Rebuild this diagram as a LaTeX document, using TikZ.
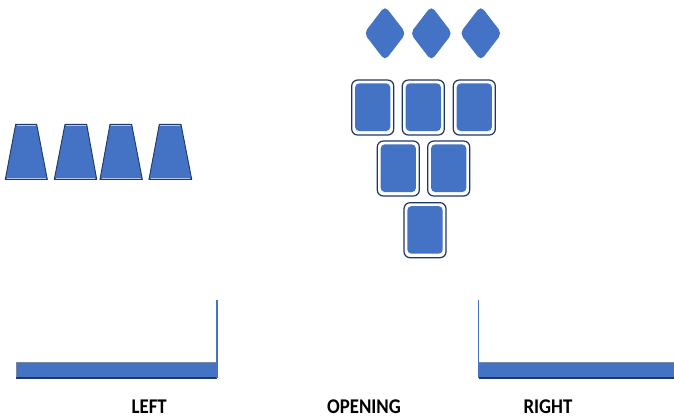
\documentclass[tikz,border=0pt]{standalone}
\usepackage{fontspec}
\newfontfamily\lblfont{Carlito}[FakeStretch=0.9]
\definecolor{fillblue}{HTML}{4472C4}
\definecolor{navy}{HTML}{1F3864}
\definecolor{edgelight}{HTML}{B4C7E7}
\begin{document}
\begin{tikzpicture}[x=1bp,y=-1bp]
\useasboundingbox (0,0) rectangle (674,418);
\tikzset{
 trap/.style={fill=fillblue, draw=navy, line width=0.9bp},
 trapin/.style={draw=edgelight, line width=0.6bp},
 gem/.style={fill=fillblue, rounded corners=5bp},
 cardout/.style={fill=white, draw=navy, line width=1.2bp, rounded corners=6bp},
 cardin/.style={fill=fillblue, rounded corners=4bp},
 barfill/.style={fill=fillblue, draw=navy!60, line width=0.6bp},
 barbase/.style={draw=navy, line width=1.6bp},
 post/.style={draw=fillblue, line width=1.6bp},
 lbl/.style={font=\lblfont\bfseries\fontsize{21}{24}\selectfont, anchor=base, inner sep=0pt}
}
% trapezoids
\foreach \bl/\br/\tl/\tr in {5.3/47.3/15.7/36.7, 54.3/96.7/65/86.7, 100/142.3/110/131.7, 149/191.7/159.3/181}{
  \draw[trap] (\bl,179.3) -- (\br,179.3) -- (\tr,124.3) -- (\tl,124.3) -- cycle;
  \draw[trapin] (\bl+1.6,178) -- (\br-1.6,178);
  \draw[trapin] (\tl+0.8,125.6) -- (\tr-0.8,125.6);
}
% diamonds
\foreach \cx in {385,431.3,480.8}{
  \fill[gem] (\cx-21,33.3) -- (\cx,6) -- (\cx+21,33.3) -- (\cx,60.6) -- cycle;
}
% cards
\foreach \x/\y in {351.7/80, 402.3/80, 453.3/80, 377.3/141, 427.7/141, 404/202.7}{
  \draw[cardout] (\x,\y) rectangle +(42,55);
  \fill[cardin] (\x+3.4,\y+3.4) rectangle +(35.2,47.6);
}
% left wall
\draw[barfill] (16,362) rectangle (217,377.5);
\draw[barbase] (16,377.8) -- (217,377.8);
\draw[post] (217,300) -- (217,378);
% right wall
\draw[barfill] (478.5,362) rectangle (674,377.5);
\draw[barbase] (478.5,377.8) -- (674,377.8);
\draw[post] (478.5,300) -- (478.5,378);
% labels
\node[lbl] (left) at (149.2,413.5) {LEFT};
\node[lbl] (opening) at (364,413.5) {OPENING};
\node[lbl] (right) at (548,413) {RIGHT};
\end{tikzpicture}
\end{document}
